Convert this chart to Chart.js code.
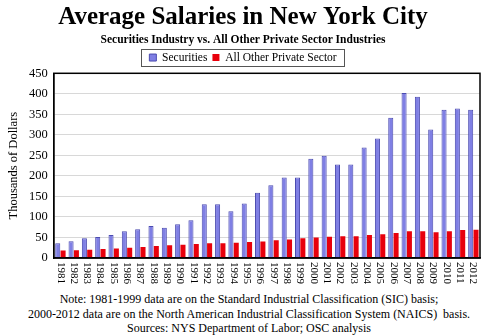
<!DOCTYPE html>
<html>
<head>
<meta charset="utf-8">
<script src="https://cdn.jsdelivr.net/npm/chart.js@4"></script>
<style>
  body { margin: 0; background: #fff; }
  #caixa { position: relative; width: 498px; height: 292px; }
  #notas {
    width: 498px; text-align: center;
    font-family: "Liberation Serif", "Times New Roman", serif;
    font-size: 12px; line-height: 14.5px; color: #000;
  }
</style>
</head>
<body>
<div id="caixa"><canvas id="grafico"></canvas></div>
<div id="notas">
  Note: 1981-1999 data are on the Standard Industrial Classification (SIC) basis;<br>
  2000-2012 data are on the North American Industrial Classification System (NAICS)&nbsp; basis.<br>
  Sources: NYS Department of Labor; OSC analysis
</div>
<script>
var anos = ['1981','1982','1983','1984','1985','1986','1987','1988','1989','1990','1991',
    '1992','1993','1994','1995','1996','1997','1998','1999','2000','2001','2002',
    '2003','2004','2005','2006','2007','2008','2009','2010','2011','2012'];

// milhares de dolares
var securities = [36, 41, 48, 51, 56, 65, 70, 78, 74, 82, 92,
    131, 131, 114, 133, 159, 177, 196, 196, 242, 249, 228,
    228, 269, 291, 342, 402, 393, 313, 361, 364, 361];

var outrosSetores = [18, 19, 20, 22, 23, 25, 27, 29, 31, 32, 34,
    36, 36, 37, 39, 40, 43, 45, 48, 50, 52, 53,
    53, 56, 58, 61, 65, 65, 63, 65, 68, 69];

var ticksY = [0, 50, 100, 150, 200, 250, 300, 350, 400, 450];

var fonte = '"Liberation Serif", "Times New Roman", serif';

// moldura preta da area do grafico + caixa da legenda + rotulos do eixo x
var extras = {
    id: 'extras',
    afterDraw: function (chart) {
        var ctx = chart.ctx;
        var area = chart.chartArea;
        ctx.save();
        ctx.strokeStyle = '#000';
        ctx.lineWidth = 1.5;
        ctx.strokeRect(area.left, area.top, area.right - area.left, area.bottom - area.top);

        var caixas = chart.legend.legendHitBoxes;
        if (caixas && caixas.length) {
            var x0 = caixas[0].left - 8;
            var ult = caixas[caixas.length - 1];
            var x1 = ult.left + ult.width + 8;
            ctx.lineWidth = 1;
            ctx.strokeStyle = '#555';
            ctx.strokeRect(Math.round(x0) + 0.5, Math.round(caixas[0].top - 3) + 0.5,
                Math.round(x1 - x0), Math.round(caixas[0].height + 5));
        }

        var escalaX = chart.scales.x;
        ctx.fillStyle = '#000';
        ctx.font = '11px ' + fonte;
        ctx.textAlign = 'left';
        ctx.textBaseline = 'middle';
        for (var i = 0; i < anos.length; i++) {
            var px = escalaX.getPixelForTick(i);
            ctx.save();
            ctx.translate(px, area.bottom + 4);
            ctx.rotate(Math.PI / 2);
            ctx.fillText(anos[i], 0, 0);
            ctx.restore();
        }
        ctx.restore();
    }
};

var data = {
    labels: anos,
    datasets: [{
        label: 'Securities',
        data: securities,
        backgroundColor: '#7f7fe4',
        borderColor: '#4b4bb0',
        borderWidth: 1,
        borderSkipped: 'bottom'
    }, {
        label: 'All Other Private Sector',
        data: outrosSetores,
        backgroundColor: '#e8000c',
        borderWidth: 0
    }]
};

var config = {
    type: 'bar',
    data: data,
    plugins: [extras],
    options: {
        responsive: true,
        maintainAspectRatio: false,
        animation: false,
        layout: { padding: { left: 6, right: 18, top: 0, bottom: 0 } },
        datasets: {
            bar: { categoryPercentage: 0.8, barPercentage: 0.95 }
        },
        plugins: {
            title: {
                display: true,
                text: 'Average Salaries in New York City',
                color: '#000',
                font: { family: fonte, size: 25, weight: 'bold' },
                padding: { top: 3, bottom: 0 }
            },
            subtitle: {
                display: true,
                text: 'Securities Industry vs. All Other Private Sector Industries',
                color: '#000',
                font: { family: fonte, size: 11.5, weight: 'bold' },
                padding: { top: 0, bottom: 0 }
            },
            legend: {
                display: true,
                labels: {
                    color: '#000',
                    font: { family: fonte, size: 11.5 },
                    boxWidth: 7,
                    boxHeight: 7,
                    padding: 5
                }
            },
            tooltip: { enabled: false }
        },
        scales: {
            x: {
                grid: { display: false, drawTicks: false },
                border: { display: true, color: '#000', width: 1.5 },
                ticks: {
                    color: 'rgba(0,0,0,0)',
                    font: { family: fonte, size: 11 },
                    padding: 6,
                    minRotation: 90,
                    maxRotation: 90,
                    autoSkip: false
                }
            },
            y: {
                min: 0,
                max: 450,
                afterBuildTicks: function (escala) {
                    escala.ticks = ticksY.map(function (v) { return { value: v }; });
                },
                grid: { color: '#d8d8d8', drawTicks: false },
                border: { display: true, color: '#000', width: 1.5 },
                ticks: {
                    color: '#000',
                    padding: 6,
                    font: { family: fonte, size: 12.5 }
                },
                title: {
                    display: true,
                    text: 'Thousands of Dollars',
                    color: '#000',
                    font: { family: fonte, size: 12.5 },
                    padding: { top: 0, bottom: 2 }
                }
            }
        }
    }
};

window.grafico = new Chart(document.getElementById('grafico').getContext('2d'), config);
</script>
</body>
</html>
